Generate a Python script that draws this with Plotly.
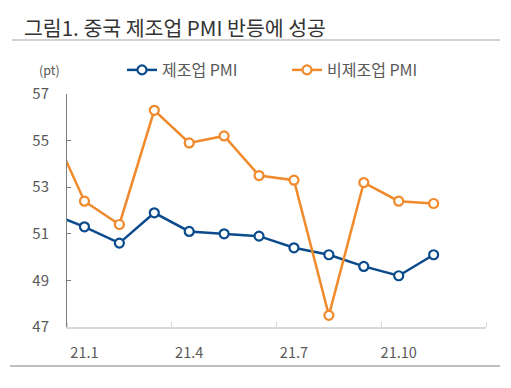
import plotly.graph_objects as go

months = ["20.12", "21.1", "21.2", "21.3", "21.4", "21.5", "21.6", "21.7", "21.8", "21.9", "21.10", "21.11"]
mfg_pmi = [51.9, 51.3, 50.6, 51.9, 51.1, 51.0, 50.9, 50.4, 50.1, 49.6, 49.2, 50.1]
non_mfg_pmi = [55.7, 52.4, 51.4, 56.3, 54.9, 55.2, 53.5, 53.3, 47.5, 53.2, 52.4, 52.3]
tick_labels = ["21.1", "21.4", "21.7", "21.10"]
y_ticks = [47, 49, 51, 53, 55, 57]

W, H = 511, 388
L, R, T, B = 67, 486, 94, 327


def px(x):
    return (x - L) / (R - L)


def py(y):
    return (B - y) / (B - T)


xidx = list(range(len(months)))
label_pos = [months.index(t) for t in tick_labels]
boundaries = [p - 0.5 for p in label_pos] + [label_pos[-1] + 2.5]

blue = "#0B4A8B"
orange = "#F08A2C"

fig = go.Figure()
fig.add_trace(go.Scatter(
    x=xidx, y=mfg_pmi, name="제조업 PMI", mode="lines+markers",
    line=dict(color=blue, width=2.5),
    marker=dict(symbol="circle", size=9, color="white", line=dict(color=blue, width=2.2)),
))
fig.add_trace(go.Scatter(
    x=xidx, y=non_mfg_pmi, name="비제조업 PMI", mode="lines+markers",
    line=dict(color=orange, width=2.5),
    marker=dict(symbol="circle", size=9, color="white", line=dict(color=orange, width=2.2)),
))

font = "Noto Sans CJK KR, Noto Sans, sans-serif"

fig.update_layout(
    width=W, height=H,
    margin=dict(l=L, r=W - R, t=T, b=H - B, autoexpand=False),
    paper_bgcolor="white", plot_bgcolor="white",
    font=dict(family=font, color="#595959", size=14),
    showlegend=True,
    legend=dict(
        orientation="h", x=px(122), y=py(70), xanchor="left", yanchor="middle",
        font=dict(size=16, color="#595959"), entrywidth=120, entrywidthmode="pixels",
        itemwidth=30, bgcolor="rgba(0,0,0,0)", tracegroupgap=0,
    ),
    xaxis=dict(
        range=[0.5, 12.5], tickmode="array",
        tickvals=label_pos, ticktext=tick_labels, ticks="",
        showline=True, linecolor="#D9D9D9", linewidth=2,
        showgrid=False, zeroline=False, ticklabelstandoff=12,
        tickfont=dict(size=14.5, color="#595959"),
        minor=dict(tickvals=boundaries, ticks="inside", ticklen=5, tickcolor="#D9D9D9", tickwidth=1, showgrid=False),
    ),
    yaxis=dict(
        range=[47, 57], tickmode="array", tickvals=y_ticks,
        ticks="inside", ticklen=4, tickcolor="#808080",
        showline=True, linecolor="#808080", linewidth=1,
        showgrid=False, zeroline=False, ticklabelstandoff=14,
        tickfont=dict(size=15, color="#595959"),
    ),
    annotations=[
        dict(text="그림1. 중국 제조업 PMI 반등에 성공", xref="paper", yref="paper",
             x=px(22), y=py(27), xanchor="left", yanchor="middle", showarrow=False,
             font=dict(size=20.5, color="#333333", family=font)),
        dict(text="(pt)", xref="paper", yref="paper",
             x=px(37), y=py(70), xanchor="left", yanchor="middle", showarrow=False,
             font=dict(size=12.5, color="#595959", family=font)),
    ],
    shapes=[
        dict(type="line", xref="paper", yref="paper", x0=px(12), x1=px(500), y0=py(40), y1=py(40),
             line=dict(color="#A6A6A6", width=1.2)),
        dict(type="line", xref="paper", yref="paper", x0=px(10), x1=px(500), y0=py(366), y1=py(366),
             line=dict(color="#BFBFBF", width=2)),
    ],
)

fig.write_html("out.html", config={"displayModeBar": False},
               post_script="document.body.style.margin='0';")
